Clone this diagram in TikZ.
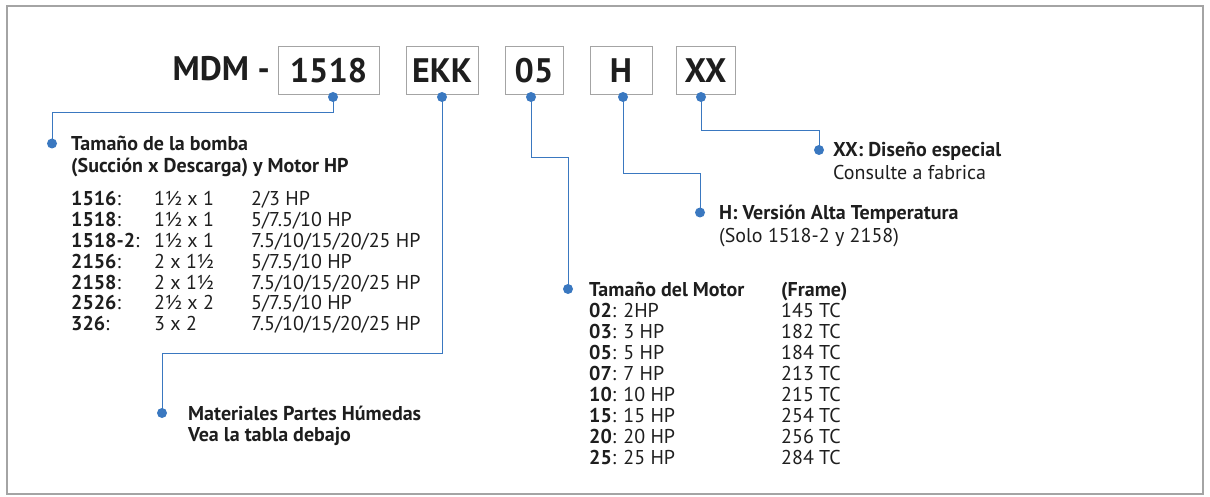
\documentclass[tikz,border=0pt]{standalone}
\usepackage{fontspec}
\setmainfont{PT Sans}
\usepackage{tikz}
\usetikzlibrary{positioning}
\definecolor{linkblue}{HTML}{3A78C0}
\definecolor{framegray}{HTML}{A4A4A4}
\definecolor{inkblack}{HTML}{1E1E1E}
\tikzstyle{codebox} = [draw=framegray, line width=1pt, minimum height=48pt, inner sep=0pt, font=\bfseries\fontsize{34}{34}\selectfont]
\tikzstyle{dot} = [circle, fill=linkblue, inner sep=0pt, minimum size=10pt]
\tikzstyle{lead} = [draw=linkblue, line width=0.9pt]
\tikzstyle{txt} = [anchor=base west, inner sep=0pt, font=\fontsize{20}{21}\selectfont]

\begin{document}
\begin{tikzpicture}[x=1pt,y=-1pt,every node/.style={text=inkblack}]
			\useasboundingbox (0,0) rectangle (1210,497);
			\draw[framegray, line width=2pt] (7,6) rectangle (1203,494);
			% code boxes
			\node[anchor=base east, inner sep=0pt, font=\bfseries\fontsize{34}{34}\selectfont] (mdm) at (270,81) {MDM -};
			\node[codebox, minimum width=101pt] (size) at (328.5,71) {1518};
			\node[codebox, minimum width=72pt] (mat) at (442,71) {EKK};
			\node[codebox, minimum width=58pt] (motor) at (534,71) {05};
			\node[codebox, minimum width=62pt] (temp) at (621,71) {H};
			\node[codebox, minimum width=59pt] (spec) at (705.5,71) {XX};
			\node[dot] (sizetop) at (333,97) {};
			\node[dot] (mattop) at (442,97) {};
			\node[dot] (motortop) at (531,97) {};
			\node[dot] (temptop) at (623,97) {};
			\node[dot] (spectop) at (701,97) {};
			% end dots
			\node[dot] (sizeend) at (52,143.5) {};
			\node[dot] (matend) at (162,413) {};
			\node[dot] (motorend) at (568,289) {};
			\node[dot] (tempend) at (700,212.5) {};
			\node[dot] (specend) at (819,150) {};
			\draw[lead] (sizetop.center) -- ++(0,15) -| (sizeend.center);
			\draw[lead] (mattop.center) -- ++(0,256) -| (matend.center);
			\draw[lead] (motortop.center) -- ++(0,60) -| (motorend.center);
			\draw[lead] (temptop.center) -- ++(0,76) -| (tempend.center);
			\draw[lead] (spectop.center) -- ++(0,33) -| (specend.center);
			% pump size
			\node[txt] (sizehead) at (71,150.5) {\renewcommand{\arraystretch}{1.07}\begin{tabular}[t]{@{}l@{}}\textbf{Tamaño de la bomba}\\\textbf{(Succión x Descarga) y Motor HP}\end{tabular}};
			\node[txt] (sizetab) at (71,206) {\renewcommand{\arraystretch}{0.99}\begin{tabular}[t]{@{}p{83pt}@{}p{97pt}@{}l@{}}
				\textbf{1516}: & 1½ x 1 & 2/3 HP\\
				\textbf{1518}: & 1½ x 1 & 5/7.5/10 HP\\
				\textbf{1518-2}: & 1½ x 1 & 7.5/10/15/20/25 HP\\
				\textbf{2156}: & 2 x 1½ & 5/7.5/10 HP\\
				\textbf{2158}: & 2 x 1½ & 7.5/10/15/20/25 HP\\
				\textbf{2526}: & 2½ x 2 & 5/7.5/10 HP\\
				\textbf{326}: & 3 x 2 & 7.5/10/15/20/25 HP
			\end{tabular}};
			% materials
			\node[txt] (matlabel) at (188,420) {\renewcommand{\arraystretch}{1.03}\begin{tabular}[t]{@{}l@{}}\textbf{Materiales Partes Húmedas}\\\textbf{Vea la tabla debajo}\end{tabular}};
			% motor
			\node[txt] (motortab) at (589,296) {\renewcommand{\arraystretch}{1.0}\begin{tabular}[t]{@{}p{192pt}@{}l@{}}
				\textbf{Tamaño del Motor} & \textbf{(Frame)}\\
				\textbf{02}: 2HP & 145 TC\\
				\textbf{03}: 3 HP & 182 TC\\
				\textbf{05}: 5 HP & 184 TC\\
				\textbf{07}: 7 HP & 213 TC\\
				\textbf{10}: 10 HP & 215 TC\\
				\textbf{15}: 15 HP & 254 TC\\
				\textbf{20}: 20 HP & 256 TC\\
				\textbf{25}: 25 HP & 284 TC
			\end{tabular}};
			% high temperature
			\node[txt] (templabel) at (719,220) {\renewcommand{\arraystretch}{1.05}\begin{tabular}[t]{@{}l@{}}\textbf{H: Versión Alta Temperatura}\\(Solo 1518-2 y 2158)\end{tabular}};
			% special design
			\node[txt] (speclabel) at (833,156.5) {\renewcommand{\arraystretch}{1.1}\begin{tabular}[t]{@{}l@{}}\textbf{XX: Diseño especial}\\Consulte a fabrica\end{tabular}};
		\end{tikzpicture}
\end{document}
